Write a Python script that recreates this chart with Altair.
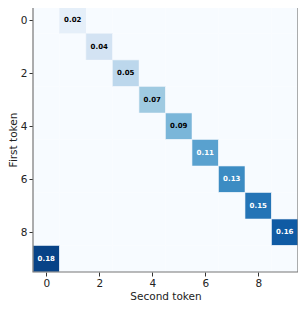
import altair as alt
import pandas as pd

n = 10
first_idx = [0, 1, 2, 3, 4, 5, 6, 7, 8, 9]
second_idx = [1, 2, 3, 4, 5, 6, 7, 8, 9, 0]
values = [0.018, 0.036, 0.055, 0.073, 0.091, 0.109, 0.127, 0.145, 0.164, 0.182]
labels = ["0.02", "0.04", "0.05", "0.07", "0.09", "0.11", "0.13", "0.15", "0.16", "0.18"]
ticks = [0, 2, 4, 6, 8]

lookup = {(f, s): (v, l) for f, s, v, l in zip(first_idx, second_idx, values, labels)}
rows = []
for f in range(n):
    for s in range(n):
        v, l = lookup.get((f, s), (0.0, ""))
        rows.append({"first": f, "second": s, "f0": f - 0.5, "f1": f + 0.5,
                     "s0": s - 0.5, "s1": s + 0.5, "value": v, "label": l})
df = pd.DataFrame(rows)

blues = ["#f7fbff", "#deebf7", "#c6dbef", "#9ecae1", "#6baed6",
         "#4292c6", "#2171b5", "#08519c", "#08306b"]

W = 265
xscale = alt.Scale(domain=[-0.5, 9.5], nice=False, zero=False)
yscale = alt.Scale(domain=[-0.5, 9.5], nice=False, zero=False, reverse=True)
axis_common = dict(values=ticks, grid=False, tickSize=4, tickColor="#333",
                   domain=False, labelFont="DejaVu Sans", labelFontSize=10.5,
                   labelColor="#222", titleFont="DejaVu Sans", titleFontSize=10.5,
                   titleFontWeight="normal", titleColor="#222", format="d")

base = alt.Chart(df)
rect = base.mark_rect(stroke="#e8f0f8").encode(
    x=alt.X("s0:Q", scale=xscale, axis=alt.Axis(title="Second token", titlePadding=3, labelPadding=2, **axis_common)),
    x2="s1:Q",
    y=alt.Y("f0:Q", scale=yscale, axis=alt.Axis(title="First token", titlePadding=2, labelPadding=2, **axis_common)),
    y2="f1:Q",
    color=alt.Color("value:Q", scale=alt.Scale(domain=[0, 0.196], range=blues, interpolate="rgb"), legend=None),
    strokeWidth=alt.condition("datum.value > 0", alt.value(0.6), alt.value(0)),
)
text = base.transform_filter("datum.label != ''").mark_text(
    font="DejaVu Sans", fontSize=7, fontWeight="bold"
).encode(
    x=alt.X("second:Q", scale=xscale),
    y=alt.Y("first:Q", scale=yscale),
    text="label:N",
    color=alt.condition("datum.value > 0.1", alt.value("white"), alt.value("black")),
)
frame = alt.Chart(pd.DataFrame({"a": [0]})).mark_rect(
    fill=None, filled=False, stroke="#777", strokeWidth=1.2
).encode(x=alt.value(0), x2=alt.value(W), y=alt.value(0), y2=alt.value(W))

chart = alt.layer(rect, text, frame).properties(
    width=W, height=W,
    padding={"left": 0, "right": -1, "top": -2, "bottom": 0},
).configure_view(stroke=None)
chart.save("out.html", embed_options={"renderer": "svg", "actions": False})
